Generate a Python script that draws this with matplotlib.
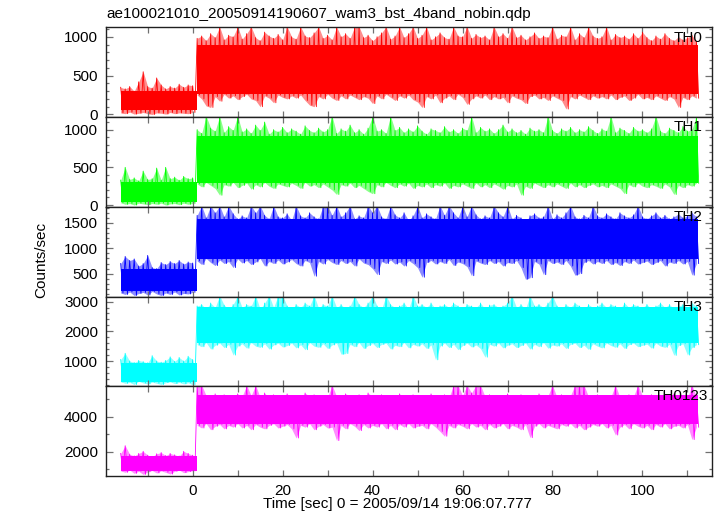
import numpy as np
import matplotlib
matplotlib.use("Agg")
import matplotlib.pyplot as plt
from matplotlib.ticker import MultipleLocator

plt.rcParams['font.family'] = ['Liberation Sans', 'DejaVu Sans']

TITLE = "ae100021010_20050914190607_wam3_bst_4band_nobin.qdp"
XLABEL = "Time [sec] 0 = 2005/09/14 19:06:07.777"
YLABEL = "Counts/sec"
BANDS = ["TH0", "TH1", "TH2", "TH3", "TH0123"]
COLORS = ["#ff0000", "#00ff00", "#0000ff", "#00ffff", "#ff00ff"]

# 1 s bins, before the step (-16..0) and after it (1..112)
PRE_T = np.arange(-16, 1)
POST_T = np.arange(1, 113)

# per-bin highest / lowest counts
TH0_PRE_HI = [350, 330, 360, 300, 420, 550, 360, 340, 470, 380, 330, 360, 340, 390, 350, 380, 370]
TH0_PRE_LO = [20, 10, 30, 5, 15, 25, 10, 0, 20, 15, 5, 25, 10, 20, 15, 10, 25]
TH0_POST_HI = [980, 1010, 950, 1040, 990, 1130, 960, 1020, 1000, 1130,
               970, 1040, 1130, 990, 950, 1060, 1010, 980, 1030, 960,
               1130, 1000, 970, 1130, 1010, 990, 1050, 1130, 980, 1020,
               960, 1130, 1000, 1040, 980, 1130, 1130, 990, 1020, 950,
               1000, 1050, 1130, 970, 1010, 1130, 990, 1040, 1130, 980,
               1020, 1130, 960, 1000, 1050, 990, 970, 1130, 1010, 1000,
               1130, 980, 1030, 990, 1010, 960, 1130, 1000, 1040, 980,
               1130, 990, 1020, 960, 1000, 1050, 980, 1010, 990, 1130,
               970, 1020, 1000, 1130, 960, 1040, 990, 1130, 1010, 980,
               1000, 1130, 960, 1030, 990, 1010, 970, 1040, 980, 1060,
               990, 950, 1010, 970, 1040, 980, 950, 1000, 960, 990,
               1020, 940]
TH0_POST_LO = [250, 200, 110, 90, 230, 170, 260, 210, 240, 190,
               230, 260, 200, 180, 100, 240, 210, 150, 250, 220,
               200, 240, 210, 250, 180, 120, 100, 230, 200, 260,
               210, 180, 240, 200, 250, 220, 190, 230, 210, 140,
               240, 200, 260, 220, 180, 240, 210, 250, 190, 160,
               90, 230, 200, 250, 150, 210, 240, 190, 260, 220,
               130, 200, 240, 210, 250, 190, 230, 200, 220, 150,
               240, 210, 190, 140, 230, 250, 200, 220, 180, 240,
               210, 180, 70, 230, 200, 250, 220, 190, 240, 210,
               230, 200, 250, 190, 220, 240, 180, 210, 260, 200,
               220, 190, 240, 210, 180, 230, 200, 90, 220, 190,
               240, 210]

TH1_PRE_HI = [330, 500, 340, 360, 320, 450, 340, 350, 490, 330, 500, 350, 370, 330, 380, 350, 360]
TH1_PRE_LO = [30, 10, 20, 0, 25, 15, 5, 20, 10, 25, 0, 15, 20, 5, 25, 10, 20]
TH1_POST_HI = [1000, 950, 1180, 1020, 980, 1180, 960, 1040, 990, 1180,
               970, 1010, 950, 1060, 990, 1100, 940, 1000, 970, 1030,
               960, 1010, 980, 940, 1050, 990, 960, 1020, 970, 1000,
               1180, 950, 1010, 980, 1060, 960, 1000, 940, 1020, 1180,
               980, 1000, 950, 1180, 990, 1030, 960, 1010, 970, 1050,
               980, 940, 1010, 990, 960, 1040, 970, 1000, 950, 1020,
               990, 1180, 960, 1030, 980, 1010, 950, 1000, 1060, 970,
               1010, 960, 990, 940, 1020, 980, 1000, 960, 1180, 990,
               950, 1010, 980, 1030, 960, 1000, 970, 1040, 990, 950,
               1010, 980, 1180, 960, 1020, 990, 950, 1030, 980, 1000,
               960, 1010, 1180, 980, 950, 1020, 990, 960, 1040, 980,
               1000, 1180]
TH1_POST_LO = [280, 240, 300, 260, 220, 130, 270, 250, 300, 230,
               260, 290, 210, 270, 240, 300, 250, 220, 280, 260,
               240, 290, 260, 220, 300, 250, 270, 230, 280, 240,
               200, 140, 270, 250, 290, 230, 260, 220, 180, 150,
               270, 240, 300, 260, 230, 280, 250, 290, 220, 260,
               240, 280, 230, 270, 250, 290, 220, 260, 240, 280,
               250, 220, 290, 240, 270, 230, 280, 250, 210, 260,
               240, 280, 130, 250, 220, 290, 260, 230, 270, 240,
               280, 250, 220, 290, 240, 270, 230, 260, 280, 240,
               260, 230, 280, 250, 220, 150, 270, 240, 290, 250,
               230, 270, 250, 220, 280, 240, 140, 260, 230, 270,
               250, 290]

TH2_PRE_HI = [700, 840, 760, 790, 650, 700, 860, 620, 600, 720, 680, 740, 700, 760, 690, 730, 710]
TH2_PRE_LO = [120, 90, 140, 70, 110, 130, 80, 150, 100, 70, 120, 90, 140, 80, 110, 100, 130]
TH2_POST_HI = [1650, 1840, 1600, 1840, 1700, 1840, 1620, 1840, 1680, 1580,
               1640, 1600, 1840, 1700, 1840, 1650, 1580, 1840, 1620, 1600,
               1680, 1550, 1840, 1640, 1600, 1700, 1620, 1580, 1840, 1840,
               1650, 1840, 1620, 1700, 1840, 1580, 1640, 1600, 1840, 1700,
               1840, 1620, 1580, 1840, 1660, 1600, 1700, 1550, 1640, 1840,
               1600, 1680, 1620, 1580, 1840, 1650, 1840, 1700, 1600, 1840,
               1620, 1840, 1660, 1580, 1640, 1600, 1840, 1700, 1620, 1840,
               1580, 1650, 1600, 1520, 1640, 1680, 1600, 1620, 1840, 1580,
               1660, 1600, 1700, 1840, 1620, 1580, 1650, 1600, 1840, 1640,
               1600, 1680, 1620, 1580, 1700, 1640, 1600, 1660, 1840, 1620,
               1580, 1640, 1700, 1600, 1650, 1580, 1620, 1680, 1600, 1640,
               1700, 1620]
TH2_POST_LO = [750, 680, 800, 720, 660, 770, 700, 740, 620, 790,
               710, 760, 680, 730, 800, 650, 740, 700, 770, 690,
               730, 780, 700, 650, 760, 720, 450, 740, 690, 780,
               720, 680, 760, 700, 740, 650, 790, 710, 680, 600,
               480, 740, 700, 770, 690, 730, 650, 760, 700, 620,
               430, 720, 760, 690, 740, 700, 780, 660, 730, 700,
               640, 460, 750, 710, 680, 760, 700, 740, 650, 720,
               700, 760, 620, 390, 420, 740, 690, 480, 760, 700,
               730, 680, 760, 650, 470, 500, 720, 760, 690, 740,
               700, 760, 680, 720, 660, 740, 700, 770, 690, 720,
               750, 680, 720, 760, 650, 730, 700, 760, 690, 740,
               470, 700]

TH3_PRE_HI = [1050, 1260, 1000, 950, 1020, 980, 940, 1180, 1000, 960, 1020, 1140, 990, 1120, 1000, 1160, 1050]
TH3_PRE_LO = [300, 250, 280, 210, 320, 260, 230, 290, 250, 210, 270, 300, 240, 280, 230, 270, 200]
TH3_POST_HI = [2850, 2900, 2750, 2950, 2800, 3200, 2880, 2750, 2900, 3200,
               2800, 2900, 2850, 3200, 2750, 2950, 3200, 2800, 3200, 3200,
               2850, 2750, 2900, 2800, 2950, 2850, 3200, 2780, 2900, 2850,
               3200, 2800, 2900, 2750, 2850, 3200, 2900, 2800, 2950, 3200,
               2850, 2750, 3200, 2900, 2800, 2850, 2950, 2750, 3200, 2850,
               2900, 2800, 2950, 2750, 2850, 2900, 2800, 2950, 2850, 2750,
               2900, 2850, 2800, 2950, 2750, 2880, 2900, 2800, 2850, 2950,
               3200, 2800, 2900, 2750, 3200, 2850, 2900, 2800, 2950, 3200,
               2850, 2750, 2900, 2800, 2950, 2850, 2750, 2900, 2800, 2850,
               2950, 2800, 2900, 2850, 2750, 2950, 2800, 2900, 2850, 2800,
               2900, 2750, 2850, 2950, 2800, 2900, 2750, 2850, 2900, 2800,
               2950, 2850]
TH3_POST_LO = [1550, 1480, 1620, 1400, 1530, 1600, 1450, 1560, 1200, 1500,
               1580, 1430, 1620, 1500, 1460, 1580, 1400, 1540, 1600, 1470,
               1520, 1600, 1440, 1550, 1380, 1620, 1500, 1460, 1580, 1420,
               1540, 1600, 1230, 1250, 1560, 1480, 1620, 1420, 1520, 1590,
               1450, 1560, 1600, 1400, 1530, 1480, 1620, 1440, 1560, 1500,
               1580, 1420, 1540, 1040, 1500, 1600, 1450, 1560, 1380, 1520,
               1600, 1470, 1540, 1420, 1130, 1560, 1500, 1600, 1440, 1530,
               1580, 1450, 1520, 1600, 1400, 1560, 1480, 1620, 1430, 1540,
               1500, 1580, 1420, 1560, 1600, 1450, 1530, 1390, 1580, 1500,
               1440, 1600, 1520, 1460, 1580, 1420, 1550, 1600, 1480, 1530,
               1570, 1430, 1600, 1500, 1460, 1560, 1190, 1520, 1580, 1200,
               1450, 1550]

TH0123_PRE_HI = [1900, 2340, 1850, 1760, 1900, 2020, 1800, 1720, 1880, 1950, 1780, 1900, 1820, 1750, 2020, 1900, 1800]
TH0123_PRE_LO = [900, 820, 950, 760, 880, 700, 850, 920, 780, 900, 820, 720, 880, 950, 800, 860, 900]
TH0123_POST_HI = [5800, 5800, 5200, 5100, 5300, 5050, 5250, 5150, 5000, 5300,
                  5150, 5800, 5200, 5800, 5100, 5350, 5050, 5250, 5150, 5000,
                  5300, 5100, 5200, 5050, 5350, 5150, 5250, 5000, 5200, 5100,
                  5800, 5150, 5050, 5300, 5200, 5100, 5250, 5000, 5350, 5150,
                  5050, 5250, 5100, 5200, 5000, 5300, 5150, 5100, 5250, 5050,
                  5200, 5100, 5300, 5000, 5150, 5250, 5100, 5800, 5800, 5200,
                  5800, 5350, 5800, 5800, 5150, 5250, 5050, 5200, 5100, 5300,
                  5150, 5000, 5250, 5100, 5200, 5050, 5300, 5150, 5200, 5800,
                  5100, 5250, 5050, 5200, 5800, 5800, 5800, 5150, 5100, 5250,
                  5050, 5200, 5150, 5800, 5100, 5000, 5250, 5150, 5800, 5200,
                  5100, 5250, 5050, 5150, 5200, 5000, 5300, 5100, 5200, 5050,
                  5800, 5150]
TH0123_POST_LO = [3500, 3350, 3600, 3250, 3450, 3550, 3300, 3500, 3400, 3600,
                  3350, 3500, 3250, 3550, 3400, 3300, 3500, 3600, 3350, 3450,
                  3550, 3300, 2780, 3500, 3400, 3600, 3250, 3450, 3550, 3350,
                  3400, 2630, 3500, 3300, 3600, 3450, 3200, 3550, 3350, 3500,
                  3400, 3600, 3300, 3500, 3250, 3550, 3400, 3600, 3350, 3450,
                  3500, 3300, 3600, 3400, 3150, 2880, 3500, 3350, 3550, 3450,
                  3300, 3600, 3400, 3500, 3250, 3550, 3350, 3450, 3600, 3300,
                  3500, 3400, 3250, 3550, 2800, 3450, 3600, 3350, 3500, 3400,
                  3300, 3550, 3450, 3600, 3350, 3500, 3250, 3400, 3550, 3450,
                  3600, 3350, 3500, 2950, 3400, 3550, 3300, 3600, 3450, 3350,
                  3500, 3250, 3550, 3400, 3600, 3300, 3450, 3500, 3350, 3550,
                  2690, 3400]

# dense middle of each band (lo, hi), before and after the step
CORE_PRE = [(60, 300), (40, 300), (150, 600), (300, 950), (880, 1750)]
CORE_POST = [(260, 900), (290, 920), (790, 1580), (1600, 2820), (3580, 5220)]

PRE_HI = [TH0_PRE_HI, TH1_PRE_HI, TH2_PRE_HI, TH3_PRE_HI, TH0123_PRE_HI]
PRE_LO = [TH0_PRE_LO, TH1_PRE_LO, TH2_PRE_LO, TH3_PRE_LO, TH0123_PRE_LO]
POST_HI = [TH0_POST_HI, TH1_POST_HI, TH2_POST_HI, TH3_POST_HI, TH0123_POST_HI]
POST_LO = [TH0_POST_LO, TH1_POST_LO, TH2_POST_LO, TH3_POST_LO, TH0123_POST_LO]

YLIMS = [(-30, 1122), (-22, 1170), (50, 1820), (160, 3170), (610, 5750)]
YMAJOR = [500, 500, 500, 1000, 2000]
YMINOR = [100, 100, 100, 200, 1000]
LABEL_X = [0.9856, 0.984, 0.9856, 0.9856, 0.994]

W, H = 717, 516
fig = plt.figure(figsize=(W / 100, H / 100), dpi=100)

left, right = 106.3, 711.7
edges = [27.3, 116.8, 206.7, 296.5, 386.0, 476.0]


def zigzag(t, hi, lo):
    # light curve drawn as one line: peak of each bin, then its dip
    t = np.asarray(t, float)
    tt = np.empty(2 * len(t))
    yy = np.empty(2 * len(t))
    tt[0::2] = t
    tt[1::2] = t + 0.5
    yy[0::2] = hi
    yy[1::2] = lo
    return tt, yy


for i, band in enumerate(BANDS):
    top, bot = edges[i], edges[i + 1]
    ax = fig.add_axes([left / W, 1 - bot / H, (right - left) / W, (bot - top) / H])
    c = COLORS[i]

    # fringe of spikes, lighter
    ax.fill_between(PRE_T, PRE_LO[i], PRE_HI[i], color=c, alpha=0.45, lw=0)
    ax.fill_between(POST_T, POST_LO[i], POST_HI[i], color=c, alpha=0.45, lw=0)
    # solid middle
    ax.fill_between([-16, 1.0], *CORE_PRE[i], color=c, lw=0)
    ax.fill_between([1.0, 112.3], *CORE_POST[i], color=c, lw=0)

    t = np.concatenate([PRE_T, POST_T])
    hi = np.concatenate([PRE_HI[i], POST_HI[i]])
    lo = np.concatenate([PRE_LO[i], POST_LO[i]])
    ax.plot(*zigzag(t, hi, lo), color=c, lw=0.6)

    ax.set_xlim(-19.2, 115.4)
    ax.set_ylim(*YLIMS[i])
    ax.xaxis.set_major_locator(MultipleLocator(20))
    ax.xaxis.set_minor_locator(MultipleLocator(10))
    ax.yaxis.set_major_locator(MultipleLocator(YMAJOR[i]))
    ax.yaxis.set_minor_locator(MultipleLocator(YMINOR[i]))
    ax.tick_params(which='both', direction='in', top=True, right=True,
                   labelsize=11, width=0.9, color='#707070')
    ax.tick_params(which='major', length=5, pad=6)
    ax.tick_params(which='minor', length=2.5)
    ax.tick_params(axis='x', which='minor', length=4)
    ax.tick_params(axis='x', which='major', length=4)
    for sp in ax.spines.values():
        sp.set_linewidth(1.0)
        sp.set_color('#202020')
    if i < len(BANDS) - 1:
        ax.tick_params(labelbottom=False)

    ax.text(LABEL_X[i], 0.885, band, transform=ax.transAxes,
            ha='right', va='center', fontsize=11)

fig.text(106.7 / W, 1 - 14 / H, TITLE, ha='left', va='center', fontsize=11)
fig.text(397.5 / W, 12 / H, XLABEL, ha='center', va='center', fontsize=11)
fig.text(41 / W, 256 / H, YLABEL, ha='center', va='center', rotation=90, fontsize=11)

fig.savefig("out.png", dpi=100)
